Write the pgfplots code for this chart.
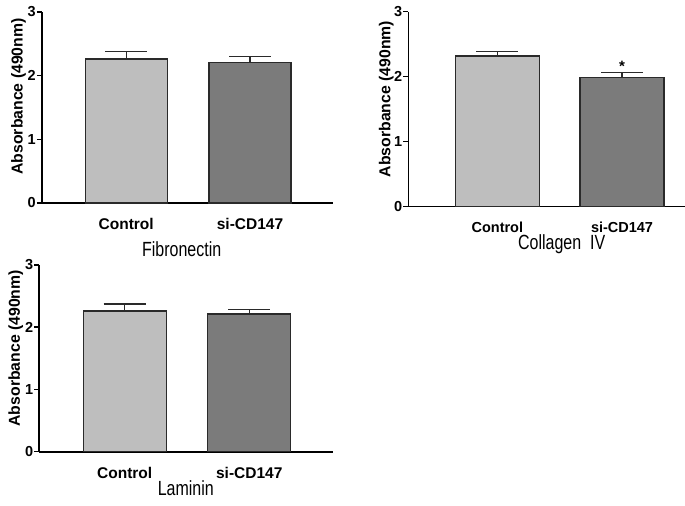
\documentclass[border=0pt]{standalone}
\usepackage{fontspec}
\setmainfont{Liberation Sans}
\usepackage{graphicx}
\usepackage{pgfplots}
\pgfplotsset{compat=1.18}
\definecolor{ctrl}{HTML}{BEBEBE}
\definecolor{sicd}{HTML}{7B7B7B}
\definecolor{edge}{HTML}{2A2A2A}
\pgfplotsset{
  panel/.style={
    scale only axis,
    anchor=south west,
    axis lines*=left,
    axis line style={line width=1.6bp, black},
    ymin=0, ymax=3,
    ytick={0,1,2,3},
    xtick={0,1},
    xticklabels={Control, si-CD147},
    tick align=outside,
    major tick length=5bp,
    ytick style={line width=1.5bp, black},
    xtick style={draw=none},
    /pgf/number format/assume math mode=true,
    yticklabel style={font=\fontsize{14.5bp}{17bp}\selectfont\bfseries, inner sep=1bp},
    xticklabel style={font=\fontsize{15.5bp}{19bp}\selectfont\bfseries, inner sep=0pt, yshift=-10bp},
    ylabel={Absorbance (490nm)},
    ylabel style={font=\fontsize{15.8bp}{19bp}\selectfont\bfseries, anchor=center},
    ybar, bar shift=0pt,
    clip=false,
    error bars/y dir=plus, error bars/y explicit,
    error bars/error bar style={line width=1.3bp, edge},
    error bars/error mark options={rotate=90, mark size=21bp, line width=1.3bp, edge},
  },
  ctrlbar/.style={fill=ctrl, draw=edge, line width=1.3bp},
  sibar/.style={fill=sicd, draw=edge, line width=1.3bp},
}
\begin{document}
\begin{tikzpicture}
\path[use as bounding box] (0,0) rectangle (685bp,506bp);
% Fibronectin
\begin{axis}[panel, at={(42bp,303bp)}, width=291bp, height=191bp,
  xmin=-0.68, xmax=1.67, bar width=82bp,
  ylabel style={at={(axis description cs:-0.081,0.558)}}]
\addplot[ctrlbar] coordinates {(0,2.26) +- (0,0.12)};
\addplot[sibar] coordinates {(1,2.21) +- (0,0.088)};
\end{axis}
% Collagen IV
\begin{axis}[panel, at={(408.3bp,299.3bp)}, width=276.7bp, height=195bp,
  xmin=-0.714, xmax=1.505, bar width=84bp,
  xticklabel style={font=\fontsize{14.5bp}{18bp}\selectfont\bfseries, yshift=-0.5bp},
  ylabel style={at={(axis description cs:-0.0795,0.552)}}]
\addplot[ctrlbar] coordinates {(0,2.318) +- (0,0.072)};
\addplot[sibar] coordinates {(1,1.985) +- (0,0.077)};
\node[anchor=north, inner sep=0pt, font=\fontsize{15bp}{18bp}\selectfont\bfseries] at (axis cs:1,2.245) {*};
\end{axis}
% Laminin
\begin{axis}[panel, at={(39.3bp,54.3bp)}, width=294bp, height=186.7bp,
  xmin=-0.686, xmax=1.675, bar width=83bp,
  ylabel style={at={(axis description cs:-0.08,0.554)}}]
\addplot[ctrlbar] coordinates {(0,2.261) +- (0,0.112)};
\addplot[sibar] coordinates {(1,2.213) +- (0,0.075)};
\end{axis}
\node[anchor=base, inner sep=0pt] at (181.7bp,249.3bp) {\scalebox{0.78}[1]{\fontsize{20.5bp}{24bp}\selectfont Fibronectin}};
\node[anchor=base, inner sep=0pt] at (561.7bp,256bp) {\scalebox{0.78}[1]{\fontsize{20.5bp}{24bp}\selectfont Collagen\ \ IV}};
\node[anchor=base, inner sep=0pt] at (185.8bp,11bp) {\scalebox{0.78}[1]{\fontsize{20.5bp}{24bp}\selectfont Laminin}};
\end{tikzpicture}
\end{document}
